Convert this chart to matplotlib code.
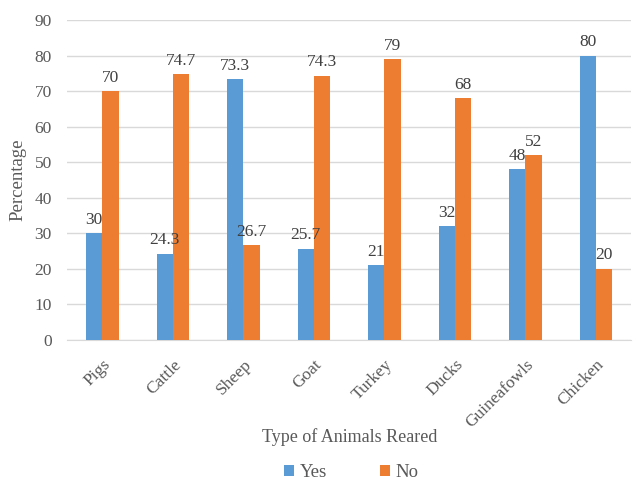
import matplotlib
matplotlib.use("Agg")
import matplotlib.pyplot as plt
from matplotlib.font_manager import FontProperties
import numpy as np

categories = ["Pigs", "Cattle", "Sheep", "Goat", "Turkey", "Ducks", "Guineafowls", "Chicken"]
yes_vals = [30, 24.3, 73.3, 25.7, 21, 32, 48, 80]
no_vals = [70, 74.7, 26.7, 74.3, 79, 68, 52, 20]
yes_labels = ["30", "24.3", "73.3", "25.7", "21", "32", "48", "80"]
no_labels = ["70", "74.7", "26.7", "74.3", "79", "68", "52", "20"]

plt.rcParams['font.family'] = ['Liberation Serif', 'DejaVu Serif']
txt = '#595959'

fig = plt.figure(figsize=(6.33, 4.82), dpi=100)
ax = fig.add_axes([0.106, 0.2946, 0.891, 0.6639])

x = np.arange(len(categories))
w = 0.23
b1 = ax.bar(x - w/2, yes_vals, w, color='#5B9BD5', label='Yes', zorder=3)
b2 = ax.bar(x + w/2, no_vals, w, color='#ED7D31', label='No', zorder=3)

for rect, lab in zip(b1, yes_labels):
    ax.annotate(lab, (rect.get_x() + rect.get_width()/2, rect.get_height()),
                xytext=(0, 4), textcoords='offset points', ha='center', va='bottom',
                fontsize=12.5, color='#404040')
for rect, lab in zip(b2, no_labels):
    ax.annotate(lab, (rect.get_x() + rect.get_width()/2, rect.get_height()),
                xytext=(0, 4), textcoords='offset points', ha='center', va='bottom',
                fontsize=12.5, color='#404040')

ax.set_xlim(-0.5, len(categories) - 0.5)
ax.set_ylim(0, 90)
ax.set_yticks(range(0, 91, 10))
ax.set_xticks(x)
ax.set_xticklabels(categories, rotation=45, ha='right', rotation_mode='anchor')
ax.tick_params(axis='both', length=0, labelsize=12.5, labelcolor=txt)
ax.tick_params(axis='y', pad=11)
ax.tick_params(axis='x', pad=12)
ax.grid(axis='y', color='#D9D9D9', linewidth=1, zorder=0)
for s in ['top', 'right', 'left']:
    ax.spines[s].set_visible(False)
ax.spines['bottom'].set_color('#D9D9D9')

ax.set_ylabel('Percentage', fontsize=13.5, color=txt, labelpad=6)
fig.text(0.553, 0.093, 'Type of Animals Reared', ha='center', va='center',
         fontsize=13, color=txt)
leg_font = FontProperties(family=['Liberation Serif', 'DejaVu Serif'], size=13.5)
fig.legend(handles=[b1, b2], labels=['Yes', 'No'], loc='center', bbox_to_anchor=(0.555, 0.02),
           ncol=2, frameon=False, prop=leg_font, handlelength=0.55, handleheight=0.55,
           columnspacing=2.8, handletextpad=0.3, labelcolor=txt)

fig.savefig('out.png', dpi=100)
